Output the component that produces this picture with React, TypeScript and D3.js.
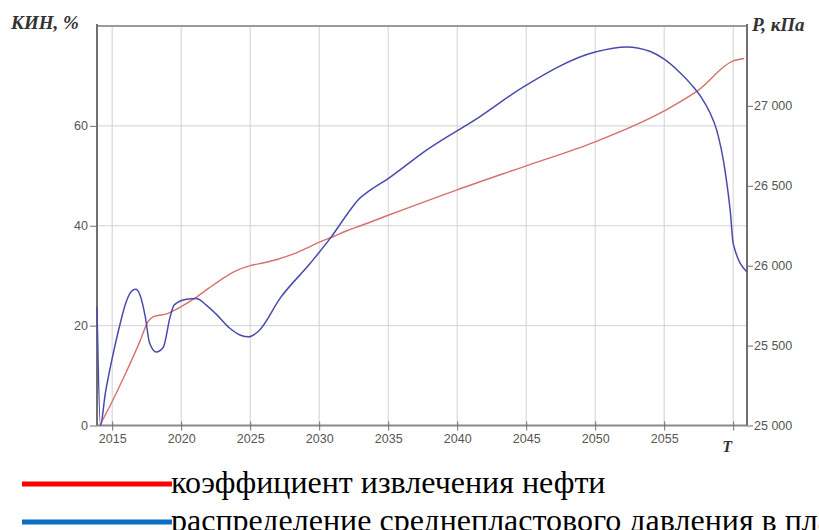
import { useEffect, useRef } from 'react'
import * as d3 from 'd3'

// КИН, % (left axis)
const oilYears = [2014.1, 2015, 2016, 2017, 2017.6, 2018, 2019, 2020, 2021, 2022, 2023, 2024, 2025, 2026, 2027, 2028, 2029, 2030, 2031, 2032, 2033, 2035, 2040, 2045, 2050, 2055, 2057.4, 2060, 2060.8]
const oilValues = [0, 4.8, 10.6, 16.8, 20.8, 21.8, 22.4, 23.8, 25.5, 27.5, 29.4, 31, 32, 32.6, 33.3, 34.2, 35.4, 36.7, 37.8, 39, 40, 42.1, 47.2, 52, 56.8, 63, 67, 73, 73.5]

// P, кПа (right axis)
const presYears = [2013.9, 2014.15, 2014.5, 2015, 2015.5, 2016, 2016.4, 2016.7, 2017, 2017.4, 2017.7, 2018.2, 2018.7, 2019.2, 2019.5, 2020.4, 2021.1, 2021.8, 2022.5, 2023.5, 2024.3, 2024.9, 2025.6, 2027.2, 2029.4, 2030.85, 2032.3, 2032.8, 2033.5, 2035, 2037.8, 2041.6, 2044.8, 2050, 2052.3, 2054, 2055, 2056, 2057, 2057.7, 2058.3, 2058.8, 2059.4, 2059.8, 2060, 2061]
const presValues = [25740, 25000, 25200, 25420, 25610, 25770, 25840, 25852, 25820, 25680, 25520, 25460, 25490, 25680, 25755, 25790, 25795, 25755, 25700, 25610, 25565, 25555, 25590, 25800, 26020, 26177, 26355, 26410, 26460, 26545, 26725, 26930, 27119, 27337, 27369, 27340, 27292, 27220, 27130, 27052, 26960, 26850, 26600, 26330, 26140, 25960]

const yearTicks = [2015, 2020, 2025, 2030, 2035, 2040, 2045, 2050, 2055, 2060]
const leftTicks = [0, 20, 40, 60]
const rightTicks = [25000, 25500, 26000, 26500, 27000]
const legendItems = [
  { label: 'коэффициент извлечения нефти', color: '#ff0000' },
  { label: 'распределение среднепластового давления в пласте', color: '#0a6fc2' }
]

export default function App() {
  const ref = useRef<SVGSVGElement>(null)

  useEffect(() => {
    if (!ref.current) return
    const svg = d3.select(ref.current)
    svg.selectAll('*').remove()

    const left = 97, right = 747, top = 26, bottom = 425.5

    const x = d3.scaleLinear().domain([2013.9, 2061]).range([left, right])
    const yL = d3.scaleLinear().domain([0, 80]).range([bottom, top])
    const yR = d3.scaleLinear().domain([25000, 27500]).range([bottom, top])

    const grid = svg.append('g').attr('stroke', '#d2d2d2').attr('stroke-width', 1)
    yearTicks.forEach(t => {
      grid.append('line').attr('x1', x(t)).attr('x2', x(t)).attr('y1', top).attr('y2', bottom)
    })
    leftTicks.slice(1).forEach(t => {
      grid.append('line').attr('x1', left).attr('x2', right).attr('y1', yL(t)).attr('y2', yL(t))
    })

    // frame
    svg.append('line').attr('x1', left).attr('x2', right).attr('y1', top).attr('y2', top)
      .attr('stroke', '#9a9a9a').attr('stroke-width', 2)
    svg.append('line').attr('x1', left).attr('x2', right).attr('y1', bottom).attr('y2', bottom)
      .attr('stroke', '#8a8a8a').attr('stroke-width', 2)

    const font = 'Liberation Sans, Arial, sans-serif'

    // left axis
    const la = svg.append('g').attr('transform', `translate(${left},0)`)
      .call(d3.axisLeft(yL).tickValues(leftTicks).tickSize(7).tickPadding(2))
    la.select('.domain').attr('d', `M0,${top - 2}V${bottom}`).attr('stroke', '#707070').attr('stroke-width', 2)
    la.selectAll('line').attr('stroke', '#707070')
    la.selectAll('text').attr('font-family', font).attr('font-size', 12.5).attr('fill', '#555')

    // right axis
    const ra = svg.append('g').attr('transform', `translate(${right},0)`)
      .call(d3.axisRight(yR).tickValues(rightTicks).tickSize(6).tickPadding(1)
        .tickFormat(d => d3.format(',')(d as number).replace(',', ' ')))
    ra.select('.domain').attr('d', `M0,${top - 2}V${bottom}`).attr('stroke', '#707070').attr('stroke-width', 2)
    ra.selectAll('line').attr('stroke', '#707070')
    ra.selectAll('text').attr('font-family', font).attr('font-size', 12.5).attr('fill', '#555')

    // bottom axis
    const ba = svg.append('g').attr('transform', `translate(0,${bottom})`)
      .call(d3.axisBottom(x).tickValues(yearTicks).tickSize(5).tickPadding(4)
        .tickFormat(d => (d === 2060 ? '' : String(d))))
    ba.select('.domain').remove()
    ba.selectAll('line').attr('stroke', '#707070').attr('y1', -4)
    ba.selectAll('text').attr('font-family', font).attr('font-size', 12.5).attr('fill', '#555')

    const title = (tx: number, ty: number, s: string, size: number) =>
      svg.append('text').attr('x', tx).attr('y', ty)
        .attr('font-family', 'Liberation Serif, serif')
        .attr('font-style', 'italic').attr('font-weight', 'bold').attr('font-size', size).attr('fill', '#333')
        .text(s)

    title(x(2060) - 11, 452, 'T', 16)
    title(11, 29, 'КИН, %', 19)
    title(752, 31, 'P, кПа', 19)

    // curves
    const oil = oilYears.map((t, i) => [t, oilValues[i]] as [number, number])
    const pres = presYears.map((t, i) => [t, presValues[i]] as [number, number])

    svg.append('path').datum(oil)
      .attr('fill', 'none').attr('stroke', '#d6716e').attr('stroke-width', 1.4)
      .attr('d', d3.line<[number, number]>().x(d => x(d[0])).y(d => yL(d[1])).curve(d3.curveMonotoneX))

    svg.append('path').datum(pres)
      .attr('fill', 'none').attr('stroke', '#4a4aac').attr('stroke-width', 1.5)
      .attr('d', d3.line<[number, number]>().x(d => x(d[0])).y(d => yR(d[1])).curve(d3.curveMonotoneX))

    // legend
    legendItems.forEach((item, i) => {
      const ly = 484 + i * 38
      svg.append('line').attr('x1', 22).attr('x2', 172).attr('y1', ly).attr('y2', ly)
        .attr('stroke', item.color).attr('stroke-width', 5)
      svg.append('text').attr('x', 171).attr('y', ly + 9)
        .attr('font-family', 'Liberation Serif, Times New Roman, serif')
        .attr('font-size', 32).attr('fill', '#000')
        .text(item.label)
    })
  }, [])

  return (
    <svg ref={ref} width={819} height={530}
      style={{ position: 'absolute', left: 0, top: 0, background: '#fff' }} />
  )
}
